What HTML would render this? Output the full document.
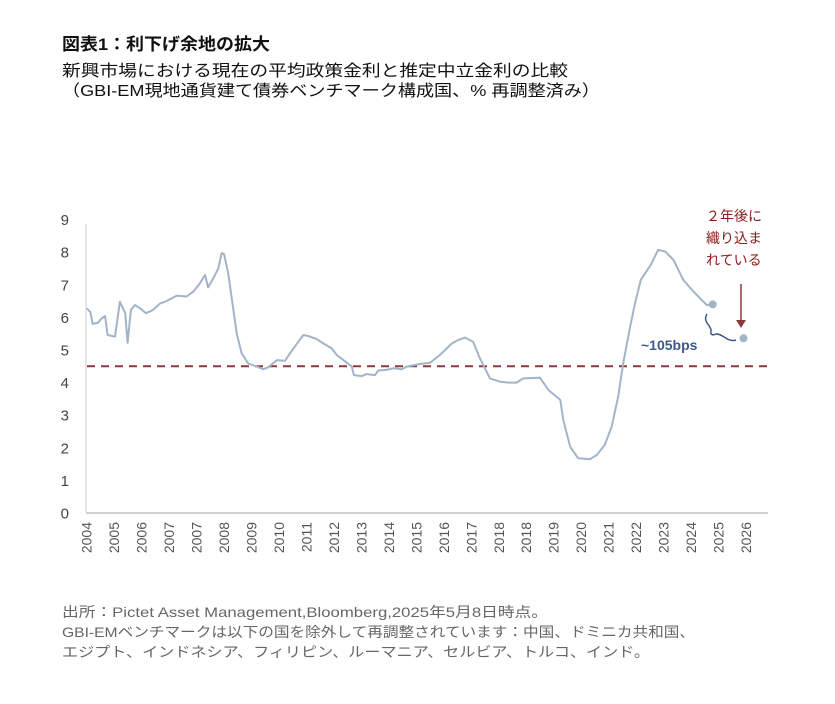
<!DOCTYPE html>
<html><head><meta charset="utf-8"><style>
body{margin:0;background:#fff;}
svg{display:block;font-family:"Liberation Sans","Noto Sans CJK JP",sans-serif;}
</style></head><body>
<svg id="chart" width="835" height="704" viewBox="0 0 835 704">
<text x="62" y="50" font-size="17" font-weight="bold" fill="#111" textLength="208" lengthAdjust="spacingAndGlyphs">図表1：利下げ余地の拡大</text>
<text x="62" y="76" font-size="16" fill="#111" textLength="506" lengthAdjust="spacingAndGlyphs">新興市場における現在の平均政策金利と推定中立金利の比較</text>
<text x="62" y="96" font-size="16" fill="#111" textLength="538" lengthAdjust="spacingAndGlyphs">（GBI-EM現地通貨建て債券ベンチマーク構成国、% 再調整済み）</text>
<g id="plot"></g>
<text x="706" y="221" font-size="14" fill="#8b1a1a">２年後に</text>
<text x="706" y="243" font-size="14" fill="#8b1a1a">織り込ま</text>
<text x="706" y="265" font-size="14" fill="#8b1a1a">れている</text>
<line x1="741" y1="284" x2="741" y2="324" stroke="#8b3a3a" stroke-width="1.5"/>
<polygon points="736,320 746,320 741,328" fill="#8b3a3a"/>
<path d="M707,314 C702,322 712,326 711,331 C710,336 714,335 716,334 C722,333 728,343 736,340" fill="none" stroke="#3d5a8a" stroke-width="1.5"/>
<text x="641" y="350" font-size="14" font-weight="bold" fill="#3d5a8a">~105bps</text>
<text x="62" y="617" font-size="14" fill="#666" textLength="486" lengthAdjust="spacingAndGlyphs">出所：Pictet Asset Management,Bloomberg,2025年5月8日時点。</text>
<text x="62" y="637" font-size="14" fill="#666" textLength="633" lengthAdjust="spacingAndGlyphs">GBI-EMベンチマークは以下の国を除外して再調整されています：中国、ドミニカ共和国、</text>
<text x="62" y="657" font-size="14" fill="#666" textLength="588" lengthAdjust="spacingAndGlyphs">エジプト、インドネシア、フィリピン、ルーマニア、セルビア、トルコ、インド。</text>
</svg>
<script>
const xLabels=["2004","2005","2006","2007","2007","2008","2009","2010","2011","2012","2013","2014","2015","2016","2017","2018","2018","2019","2020","2021","2022","2023","2024","2025","2026"];
const yTicks=[0,1,2,3,4,5,6,7,8,9];
const seriesT=[0,0.13,0.22,0.42,0.54,0.67,0.76,1.03,1.21,1.40,1.49,1.61,1.76,1.94,2.16,2.42,2.67,2.85,3.10,3.28,3.64,3.88,4.12,4.31,4.42,4.61,4.79,4.91,5.00,5.15,5.34,5.46,5.64,5.88,6.19,6.43,6.61,6.92,7.22,7.40,7.70,7.89,8.06,8.38,8.62,8.92,9.10,9.65,9.73,10.02,10.19,10.50,10.61,10.92,11.16,11.47,11.65,12.13,12.50,12.86,13.29,13.53,13.77,14.07,14.31,14.68,15.04,15.35,15.65,15.89,16.50,16.81,17.24,17.35,17.60,17.89,18.32,18.57,18.86,19.11,19.35,19.53,19.78,19.96,20.17,20.53,20.80,21.06,21.36,21.72,22.09,22.57,22.79];
const seriesV=[6.28,6.17,5.80,5.84,5.97,6.04,5.46,5.41,6.48,6.13,5.22,6.23,6.38,6.28,6.13,6.23,6.43,6.48,6.59,6.67,6.64,6.79,7.05,7.30,6.92,7.20,7.50,7.97,7.94,7.35,6.23,5.51,4.90,4.59,4.49,4.41,4.47,4.69,4.67,4.90,5.25,5.46,5.43,5.33,5.20,5.05,4.85,4.49,4.23,4.20,4.26,4.23,4.37,4.39,4.44,4.41,4.49,4.57,4.61,4.85,5.20,5.31,5.38,5.25,4.75,4.13,4.03,4.00,4.00,4.13,4.15,3.77,3.47,2.85,2.03,1.68,1.65,1.78,2.09,2.65,3.57,4.59,5.71,6.43,7.15,7.61,8.07,8.02,7.76,7.15,6.79,6.38,6.40];
const pointsT=[22.79,23.91];
const pointsV=[6.40,5.36];
const neutralRate=[4.5];

const NS="http://www.w3.org/2000/svg";
const g=document.getElementById('plot');
const X0=86.7,DX=27.47,Y0=513,DY=32.6;
const xs=t=>X0+t*DX, ys=v=>Y0-v*DY;
function mk(tag,attrs){const e=document.createElementNS(NS,tag);for(const k in attrs)e.setAttribute(k,attrs[k]);g.appendChild(e);return e;}

let ax=mk('line',{x1:86,y1:ys(9)+4,x2:86,y2:Y0,stroke:'#ddd','stroke-width':1.5});


let bx=mk('line',{x1:86,y1:Y0,x2:768,y2:Y0,stroke:'#d0d0d0','stroke-width':2});



yTicks.forEach(v=>{
  const t=mk('text',{x:69,y:ys(v)+5.5,'font-size':15,fill:'#444','text-anchor':'end'});
  t.textContent=v;
  
  
});
xLabels.forEach((l,i)=>{
  const x=xs(i);
  const t=mk('text',{x:0,y:0,'font-size':14,fill:'#555','text-anchor':'end',transform:`translate(${x+5},522) rotate(-90)`});
  t.textContent=l;
  
  
});

const d=mk('line',{x1:87,y1:ys(neutralRate[0]),x2:768,y2:ys(neutralRate[0]),stroke:'#8b3a3a','stroke-width':2,'stroke-dasharray':'8 6'});



const p=mk('polyline',{points:seriesT.map((t,i)=>xs(t).toFixed(1)+','+ys(seriesV[i]).toFixed(1)).join(' '),fill:'none',stroke:'#a3b4c8','stroke-width':2,'stroke-linejoin':'round'});



pointsT.forEach((t,i)=>{
  const c=mk('circle',{cx:xs(t),cy:ys(pointsV[i]),r:4,fill:'#a3b4c8'});
  
  
});
</script>
</body></html>
